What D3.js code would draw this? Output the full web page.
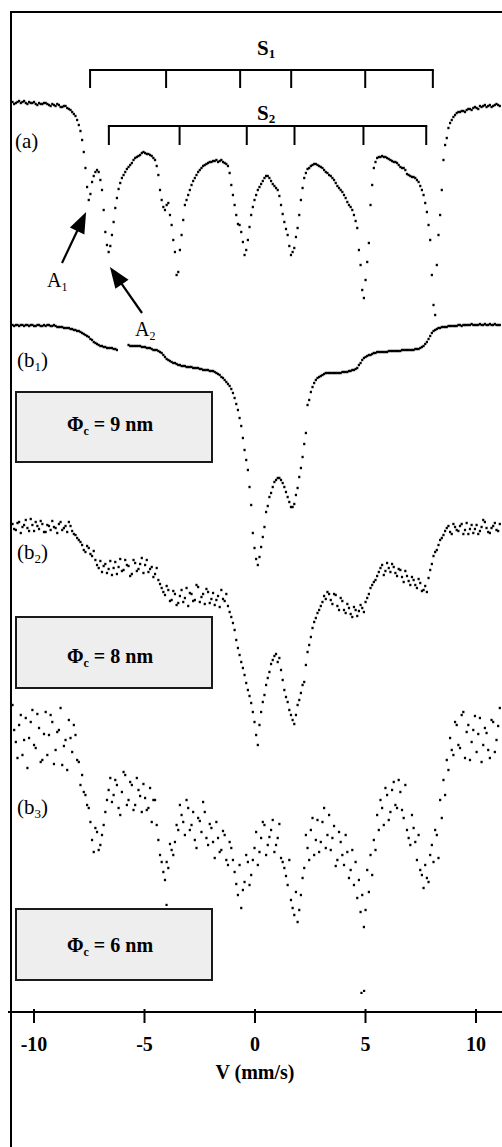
<!DOCTYPE html>
<html><head><meta charset="utf-8">
<script src="https://cdn.jsdelivr.net/npm/d3@7"></script>
<style>html,body{margin:0;padding:0;background:#fff;} svg{display:block;}</style>
</head><body>
<svg id="chart" width="502" height="1147"></svg>
<script>
// ---- data (velocity in mm/s, relative transmission in %) ----
// channel velocities, first sweep
const velocity = [
-10.95,-10.8,-10.65,-10.5,-10.35,-10.2,-10.05,-9.9,-9.75,-9.6,
-9.45,-9.3,-9.15,-9,-8.85,-8.7,-8.55,-8.4,-8.25,-8.1,
-7.95,-7.8,-7.65,-7.5,-7.35,-7.2,-7.05,-6.9,-6.75,-6.6,
-6.45,-6.3,-6.15,-6,-5.85,-5.7,-5.55,-5.4,-5.25,-5.1,
-4.95,-4.8,-4.65,-4.5,-4.35,-4.2,-4.05,-3.9,-3.75,-3.6,
-3.45,-3.3,-3.15,-3,-2.85,-2.7,-2.55,-2.4,-2.25,-2.1,
-1.95,-1.8,-1.65,-1.5,-1.35,-1.2,-1.05,-0.9,-0.75,-0.6,
-0.45,-0.3,-0.15,0,0.15,0.3,0.45,0.6,0.75,0.9,
1.05,1.2,1.35,1.5,1.65,1.8,1.95,2.1,2.25,2.4,
2.55,2.7,2.85,3,3.15,3.3,3.45,3.6,3.75,3.9,
4.05,4.2,4.35,4.5,4.65,4.8,4.95,5.1,5.25,5.4,
5.55,5.7,5.85,6,6.15,6.3,6.45,6.6,6.75,6.9,
7.05,7.2,7.35,7.5,7.65,7.8,7.95,8.1,8.25,8.4,
8.55,8.7,8.85,9,9.15,9.3,9.45,9.6,9.75,9.9,
10.05,10.2,10.35,10.5,10.65,10.8,10.95,11.1];
// channel velocities, interleaved sweep
const velocityMid = [
-10.875,-10.725,-10.575,-10.425,-10.275,-10.125,-9.975,-9.825,-9.675,-9.525,
-9.375,-9.225,-9.075,-8.925,-8.775,-8.625,-8.475,-8.325,-8.175,-8.025,
-7.875,-7.725,-7.575,-7.425,-7.275,-7.125,-6.975,-6.825,-6.675,-6.525,
-6.375,-6.225,-6.075,-5.925,-5.775,-5.625,-5.475,-5.325,-5.175,-5.025,
-4.875,-4.725,-4.575,-4.425,-4.275,-4.125,-3.975,-3.825,-3.675,-3.525,
-3.375,-3.225,-3.075,-2.925,-2.775,-2.625,-2.475,-2.325,-2.175,-2.025,
-1.875,-1.725,-1.575,-1.425,-1.275,-1.125,-0.975,-0.825,-0.675,-0.525,
-0.375,-0.225,-0.075,0.075,0.225,0.375,0.525,0.675,0.825,0.975,
1.125,1.275,1.425,1.575,1.725,1.875,2.025,2.175,2.325,2.475,
2.625,2.775,2.925,3.075,3.225,3.375,3.525,3.675,3.825,3.975,
4.125,4.275,4.425,4.575,4.725,4.875,5.025,5.175,5.325,5.475,
5.625,5.775,5.925,6.075,6.225,6.375,6.525,6.675,6.825,6.975,
7.125,7.275,7.425,7.575,7.725,7.875,8.025,8.175,8.325,8.475,
8.625,8.775,8.925,9.075,9.225,9.375,9.525,9.675,9.825,9.975,
10.125,10.275,10.425,10.575,10.725,10.875,11.025];

// (a)
const transmissionA = [
99.8,99.7,99.9,99.8,99.7,99.8,99.7,99.6,99.7,99.6,
99.7,99.5,99.6,99.4,99.5,99.3,99.4,99.1,98.8,98.4,
97.5,96.0,93.2,90.0,91.8,92.8,92.8,91.0,86.8,84.8,
86.5,89.2,91.1,92.2,92.8,93.3,93.7,94.2,94.4,94.7,
94.7,94.6,94.4,94.0,92.5,90.0,89.0,89.7,87.5,84.8,
82.8,86.5,89.5,90.5,91.5,92.2,92.8,93.2,93.5,93.7,
93.8,93.9,93.8,94.0,93.7,93.4,91.5,89.5,87.6,86.8,
84.5,86.0,88.5,90.0,91.0,91.6,92.2,92.4,91.9,91.4,
91.0,89.5,87.8,86.5,84.5,85.2,87.2,90.0,92.2,93.1,
93.4,93.6,93.5,93.3,93.0,92.7,92.4,92.0,91.4,91.0,
90.5,89.8,89.3,88.5,87.2,83.5,80.2,83.8,89.5,93.2,
94.2,94.3,94.3,94.2,94.0,93.8,93.7,93.3,93.2,92.6,
92.4,92.3,92.0,91.4,90.5,88.8,86.0,79.5,83.5,88.5,
94.0,96.2,97.7,98.3,98.7,98.8,98.9,99.0,99.1,99.2,
99.2,99.4,99.4,99.3,99.5,99.4,99.6,99.4];
const transmissionAMid = [
99.6,99.8,99.7,99.9,99.6,99.7,99.8,99.5,99.6,99.7,
99.6,99.4,99.5,99.6,99.3,99.4,99.2,99.0,98.6,98.0,
96.9,94.8,91.3,90.6,92.4,93.0,92.0,89.0,85.5,85.4,
87.8,90.2,91.7,92.5,93.1,93.5,94.0,94.3,94.5,94.8,
94.6,94.5,94.2,93.4,91.0,89.3,89.5,88.5,86.0,82.5,
85.0,88.0,90.0,91.0,91.9,92.5,93.0,93.4,93.6,93.8,
93.9,94.0,93.9,93.8,93.6,92.7,90.5,88.5,87.5,85.8,
85.0,87.3,89.3,90.5,91.3,91.9,92.4,92.2,91.6,91.2,
90.4,88.6,87.1,85.4,84.8,86.3,88.5,91.2,92.7,93.2,
93.5,93.6,93.4,93.2,92.8,92.5,92.2,91.7,91.2,90.8,
90.2,89.5,89.0,87.9,85.0,81.0,82.0,85.7,91.5,93.8,
94.3,94.4,94.3,94.1,93.9,93.8,93.5,93.2,93.0,92.5,
92.3,92.2,91.8,91.0,89.7,87.5,82.5,78.5,86.5,91.0,
95.5,97.2,98.0,98.5,98.8,98.9,98.8,99.1,99.0,99.3,
99.1,99.3,99.5,99.4,99.3,99.5,99.5];

// (b1)
const transmissionB1 = [
99.5,99.5,99.4,99.5,99.5,99.4,99.5,99.4,99.5,99.4,
99.4,99.5,99.4,99.4,99.3,99.3,99.2,99.2,99.1,99.0,
98.9,98.7,98.5,98.3,98.0,97.7,97.5,97.4,97.3,97.2,
97.2,97.1,null,null,null,97.5,97.4,97.4,97.4,97.3,
97.3,97.2,97.1,97.0,96.9,96.7,96.3,96.0,95.8,95.7,
95.5,95.4,95.4,95.3,95.3,95.2,95.2,95.1,95.0,95.0,
94.9,94.8,94.6,94.3,94.0,93.6,93.1,92.2,91.0,89.4,
87.0,85.0,81.5,77.2,75.5,77.3,79.3,81.4,82.7,83.8,
84.2,84.0,83.3,82.3,81.3,81.6,83.2,85.2,87.6,91.5,
92.8,93.7,94.2,94.4,94.6,94.7,94.7,94.7,94.7,94.7,
94.8,94.8,94.9,95.0,95.2,95.7,96.2,96.4,96.5,96.7,
96.8,96.8,96.8,96.8,96.9,96.9,96.9,96.9,97.0,97.0,
97.0,97.0,97.1,97.2,97.4,97.8,98.4,98.9,99.1,99.2,
99.3,99.3,99.4,99.4,99.4,99.5,99.5,99.5,99.5,99.5,
99.5,99.6,99.5,99.5,99.6,99.5,99.5,99.5];
const transmissionB1Mid = [
99.4,99.5,99.5,99.4,99.5,99.5,99.4,99.5,99.4,99.5,
99.5,99.4,99.5,99.3,99.3,99.2,99.2,99.1,99.0,98.9,
98.8,98.6,98.4,98.1,97.8,97.6,97.4,97.3,97.2,97.2,
97.1,97.0,null,null,null,97.4,97.4,97.4,97.4,97.3,
97.2,97.2,97.0,97.0,96.8,96.5,96.1,95.9,95.7,95.6,
95.5,95.4,95.3,95.3,95.2,95.2,95.1,95.0,95.0,94.9,
94.9,94.7,94.5,94.2,93.8,93.4,92.7,91.6,90.2,88.2,
86.0,83.3,78.7,76.1,76.3,78.3,80.8,82.3,83.3,84.0,
84.2,83.7,82.8,81.8,81.3,82.5,84.3,86.3,88.7,92.0,
93.3,94.0,94.3,94.5,94.7,94.7,94.7,94.7,94.7,94.8,
94.8,94.9,95.0,95.1,95.5,96.0,96.3,96.5,96.6,96.7,
96.8,96.8,96.8,96.9,96.9,96.9,96.9,97.0,97.0,97.0,
97.0,97.1,97.1,97.3,97.6,98.1,98.7,99.0,99.2,99.3,
99.3,99.4,99.4,99.4,99.5,99.4,99.5,99.5,99.6,99.5,
99.5,99.5,99.6,99.5,99.5,99.6,99.5];

// (b2)
const transmissionB2 = [
99.6,99.0,99.8,99.3,100.0,98.9,99.5,99.8,99.1,99.6,
98.8,99.4,99.9,99.2,99.6,99.0,99.4,99.8,98.9,98.5,
98.0,97.5,96.8,97.2,96.4,96.0,95.2,94.8,95.6,95.1,
94.5,95.8,95.3,94.9,96.0,95.4,94.6,95.7,95.1,96.2,
95.5,94.8,95.3,94.6,94.0,93.2,92.5,93.0,92.0,92.6,
91.7,93.0,92.2,91.4,92.6,92.0,93.3,92.3,91.6,92.8,
92.1,91.5,92.4,93.0,91.9,91.4,90.3,89.0,87.2,85.8,
84.5,83.0,81.7,79.8,77.5,80.8,82.5,84.2,85.6,86.4,
85.8,85.0,83.0,81.8,80.5,79.6,81.5,82.7,83.8,86.8,
88.3,89.8,90.7,91.4,92.4,92.8,92.0,92.6,91.4,92.2,
91.0,91.6,90.6,91.3,90.4,91.5,90.8,92.2,93.2,93.8,
94.4,95.2,94.5,95.7,94.8,95.3,94.4,95.0,93.8,94.4,
93.5,94.0,93.2,93.7,93.0,92.8,95.0,96.4,97.0,98.0,
98.5,99.2,98.8,99.6,99.0,99.4,98.6,99.7,99.1,98.7,
99.5,98.9,100.0,99.2,98.7,99.4,99.0,99.6];
const transmissionB2Mid = [
99.1,99.7,98.7,99.5,99.2,100.1,98.9,99.4,99.9,98.8,
99.5,99.0,99.3,98.7,99.8,99.2,98.8,99.4,98.6,98.2,
97.8,97.0,97.4,96.6,96.9,95.5,95.9,95.4,94.7,95.9,
95.2,94.6,96.1,95.0,95.5,94.4,96.0,94.9,95.6,94.7,
96.0,95.1,94.3,95.2,93.6,92.8,93.4,91.9,92.9,91.5,
92.4,91.8,93.2,92.7,91.9,93.5,91.8,92.6,93.1,91.7,
92.7,92.0,91.3,92.1,92.6,90.8,89.7,88.0,86.5,85.2,
83.7,82.4,80.8,78.5,79.5,81.8,83.5,84.8,86.0,86.6,
86.2,84.0,82.3,81.0,80.0,80.5,82.0,83.5,85.5,87.5,
89.2,90.2,91.0,91.8,92.1,92.6,91.6,92.5,91.0,91.9,
90.7,91.2,90.3,91.0,90.9,91.2,91.8,92.6,93.5,94.0,
94.8,95.5,94.9,95.2,95.6,94.7,95.1,94.3,94.9,93.9,
94.3,93.5,94.1,92.9,93.4,94.2,95.6,96.8,97.5,98.2,
98.9,99.4,98.6,99.3,98.9,99.6,99.0,98.6,99.5,99.1,
98.6,99.3,99.8,98.8,99.2,99.7,98.9];

// (b3)
const transmissionB3 = [
98.5,94.8,96.5,93.5,97.2,95.2,98.0,94.2,96.2,93.0,
97.8,95.5,96.8,94.0,96.0,92.5,95.0,97.0,93.8,95.5,
92.8,91.5,89.5,88.2,85.0,86.2,84.0,85.5,87.8,90.0,
88.8,91.0,88.2,89.8,91.5,89.0,90.5,88.5,90.0,87.8,
89.2,88.2,86.8,89.0,85.0,82.8,81.0,82.2,84.0,84.8,
86.0,87.5,85.5,88.2,86.5,85.0,87.2,85.8,87.8,84.5,
86.2,83.2,85.2,84.0,85.5,82.5,84.2,81.8,79.5,78.2,
80.8,82.8,81.5,84.2,82.5,85.2,86.5,84.5,86.0,83.8,
85.2,83.2,82.2,80.5,79.0,77.5,76.8,79.5,82.2,84.2,
86.0,83.5,87.0,84.8,88.2,85.5,84.0,86.4,83.0,84.8,
82.5,83.8,82.0,80.5,79.2,77.8,76.3,82.0,83.5,85.0,
87.5,89.0,86.5,89.5,87.8,90.8,88.2,89.8,87.2,86.0,
84.5,86.2,83.0,82.0,80.2,81.2,83.5,82.8,85.5,89.0,
91.0,93.0,95.2,93.5,96.5,94.2,97.8,95.8,93.0,96.0,
93.8,97.2,94.5,95.7,93.2,96.8,95.0,98.2];
const transmissionB3Mid = [
96.0,93.2,97.5,95.0,92.2,96.8,94.5,97.6,92.8,95.6,
93.5,97.5,92.6,95.8,98.2,94.4,92.0,95.2,96.5,93.0,
90.5,89.8,88.5,86.8,83.8,85.8,84.5,86.5,89.0,91.2,
89.5,90.5,87.5,91.8,88.5,90.8,88.0,91.2,89.4,90.6,
88.0,90.2,89.0,86.5,83.5,81.8,82.8,84.6,83.5,86.5,
88.5,86.8,89.0,86.0,87.8,84.2,86.9,88.8,85.2,86.6,
84.8,86.8,83.8,85.9,83.0,84.8,83.0,80.6,82.5,80.0,
83.5,80.5,83.0,85.8,83.8,86.8,83.5,85.3,87.0,84.5,
86.6,82.8,81.4,83.0,78.2,79.8,78.0,81.2,85.5,83.0,
87.2,85.0,83.8,86.8,84.2,87.5,85.2,82.4,85.8,83.5,
85.5,81.2,84.0,82.8,81.0,79.5,78.0,79.8,81.5,84.0,
86.0,88.2,90.2,87.0,90.0,88.5,91.0,88.0,90.5,85.2,
87.5,84.8,85.5,81.5,82.5,80.8,84.5,86.0,83.2,87.2,
89.5,92.0,94.0,96.8,94.5,97.5,93.2,96.5,94.8,97.4,
95.6,92.8,96.2,94.0,97.0,93.8,96.4];
const extraVelocityB3 = [-3.98, 4.84, 4.96];
const extraTransmissionB3 = [78.5, 69.7, 69.9];

const sextet1Lines = [-7.44, -4.00, -0.65, 1.66, 5.01, 8.07];
const sextet2Lines = [-6.59, -3.39, -0.35, 1.81, 4.93, 7.77];
const tickValues = [-10, -5, 0, 5, 10];
const diameters = ["9", "8", "6"];

// ---- layout ----
const W = 502, H = 1147;
const serif = "'Liberation Serif','Times New Roman',Times,serif";
const svg = d3.select("#chart");
const x = d3.scaleLinear().domain([-10, 10]).range([33.5, 475.5]);

const panels = [
  {values: transmissionA, mid: transmissionAMid, base: 100, lab: "a", sub: "", lx: 15, ly: 148},
  {values: transmissionB1, mid: transmissionB1Mid, base: 320, lab: "b", sub: "1", lx: 17, ly: 367},
  {values: transmissionB2, mid: transmissionB2Mid, base: 520, lab: "b", sub: "2", lx: 17, ly: 559},
  {values: transmissionB3, mid: transmissionB3Mid, base: 690, lab: "b", sub: "3", lx: 17, ly: 814}
];
panels.forEach(p => { p.y = d3.scaleLinear().domain([100, 70]).range([p.base, p.base + 300]); });

// frame
svg.append("rect").attr("x", 11).attr("y", 12).attr("width", 520).attr("height", 1160)
  .attr("fill", "none").attr("stroke", "#000").attr("stroke-width", 2);

// boxes
const boxes = [{top: 392, h: 70, base: 431}, {top: 617, h: 71, base: 663}, {top: 909, h: 71, base: 952}];
boxes.forEach((b, i) => {
  svg.append("rect").attr("x", 16).attr("y", b.top).attr("width", 196).attr("height", b.h)
    .attr("fill", "#eeeeee").attr("stroke", "#1a1a1a").attr("stroke-width", 2);
  const t = svg.append("text").attr("x", 110).attr("y", b.base).attr("text-anchor", "middle")
    .attr("font-family", serif).attr("font-weight", "bold").attr("font-size", 20);
  t.append("tspan").text("Φ");
  t.append("tspan").attr("font-size", 12).attr("dy", 4).text("c");
  t.append("tspan").attr("dy", -4).text(" = " + diameters[i] + " nm");
});

// spectra dots
panels.forEach(p => {
  const pts = velocity.map((v, i) => [v, p.values[i]])
    .concat(velocityMid.map((v, i) => [v, p.mid[i]]))
    .filter(d => d[1] != null);
  svg.append("g").selectAll("rect").data(pts).join("rect")
    .attr("x", d => x(d[0]) - 1.1).attr("y", d => p.y(d[1]) - 1.2)
    .attr("width", 2.2).attr("height", 2.4).attr("fill", "#000");
  const t = svg.append("text").attr("x", p.lx).attr("y", p.ly)
    .attr("font-family", serif).attr("font-size", 21);
  t.append("tspan").text("(" + p.lab);
  if (p.sub) {
    t.append("tspan").attr("font-size", 13).attr("dy", 4).text(p.sub);
    t.append("tspan").attr("dy", -4).text(")");
  } else t.append("tspan").text(")");
});
const extra = extraVelocityB3.map((v, i) => [v, extraTransmissionB3[i]]);
svg.append("g").selectAll("rect").data(extra).join("rect")
  .attr("x", d => x(d[0]) - 1.1).attr("y", d => panels[3].y(d[1]) - 1.2)
  .attr("width", 2.2).attr("height", 2.2).attr("fill", "#000");

// sextet brackets
function bracket(lines, yLine, yEnd, sub, yText) {
  const g = svg.append("g").attr("stroke", "#000").attr("stroke-width", 2).attr("fill", "none");
  g.append("line").attr("x1", x(lines[0]) - 1).attr("x2", x(lines[lines.length - 1]) + 1)
    .attr("y1", yLine).attr("y2", yLine);
  g.selectAll("line.t").data(lines).join("line").attr("class", "t")
    .attr("x1", d => x(d)).attr("x2", d => x(d)).attr("y1", yLine).attr("y2", yEnd);
  const t = svg.append("text").attr("x", 257).attr("y", yText)
    .attr("font-family", serif).attr("font-weight", "bold").attr("font-size", 21);
  t.append("tspan").text("S");
  t.append("tspan").attr("font-size", 13).attr("dy", 3).text(sub);
}
bracket(sextet1Lines, 70, 88, "1", 55);
bracket(sextet2Lines, 126, 145, "2", 120);

// arrows A1, A2 (data coordinates of panel a)
const arrows = [
  {tail: [-8.71, 83.7], tip: [-7.62, 88.8], lab: [-9.39, 81.3], sub: "1"},
  {tail: [-5.09, 78.7], tip: [-6.54, 83.3], lab: [-5.41, 76.4], sub: "2"}
];
arrows.forEach(a => {
  const ya = panels[0].y;
  const tx = x(a.tail[0]), ty = ya(a.tail[1]), px = x(a.tip[0]), py = ya(a.tip[1]);
  const dx = px - tx, dy = py - ty, len = Math.hypot(dx, dy);
  const ux = dx / len, uy = dy / len, L = 21, Wd = 8;
  svg.append("line").attr("x1", tx).attr("y1", ty).attr("x2", px - ux * L * 0.8).attr("y2", py - uy * L * 0.8)
    .attr("stroke", "#000").attr("stroke-width", 2.2);
  const bx = px - ux * L, by = py - uy * L;
  svg.append("path").attr("d", `M${px},${py}L${bx - uy * Wd},${by + ux * Wd}L${bx + uy * Wd},${by - ux * Wd}Z`)
    .attr("fill", "#000");
  const t = svg.append("text").attr("x", x(a.lab[0])).attr("y", ya(a.lab[1]))
    .attr("font-family", serif).attr("font-size", 20);
  t.append("tspan").text("A");
  t.append("tspan").attr("font-size", 12).attr("dy", 4).text(a.sub);
});

// x axis
const axisY = 1012;
const ax = svg.append("g").attr("transform", `translate(0,${axisY})`)
  .call(d3.axisBottom(x).tickValues(tickValues).tickSize(11).tickFormat(d => String(d)));
ax.select(".domain").remove();
ax.selectAll(".tick line").attr("y1", -3).attr("y2", 11).attr("stroke", "#000").attr("stroke-width", 2);
ax.selectAll(".tick text").attr("y", 39).attr("dy", 0).attr("fill", "#000")
  .attr("font-family", serif).attr("font-weight", "bold").attr("font-size", 20);
svg.append("line").attr("x1", 8).attr("x2", W).attr("y1", axisY).attr("y2", axisY)
  .attr("stroke", "#000").attr("stroke-width", 2);
svg.append("text").attr("x", 255).attr("y", 1079).attr("text-anchor", "middle")
  .attr("font-family", serif).attr("font-weight", "bold").attr("font-size", 20).text("V (mm/s)");
</script>
</body></html>
